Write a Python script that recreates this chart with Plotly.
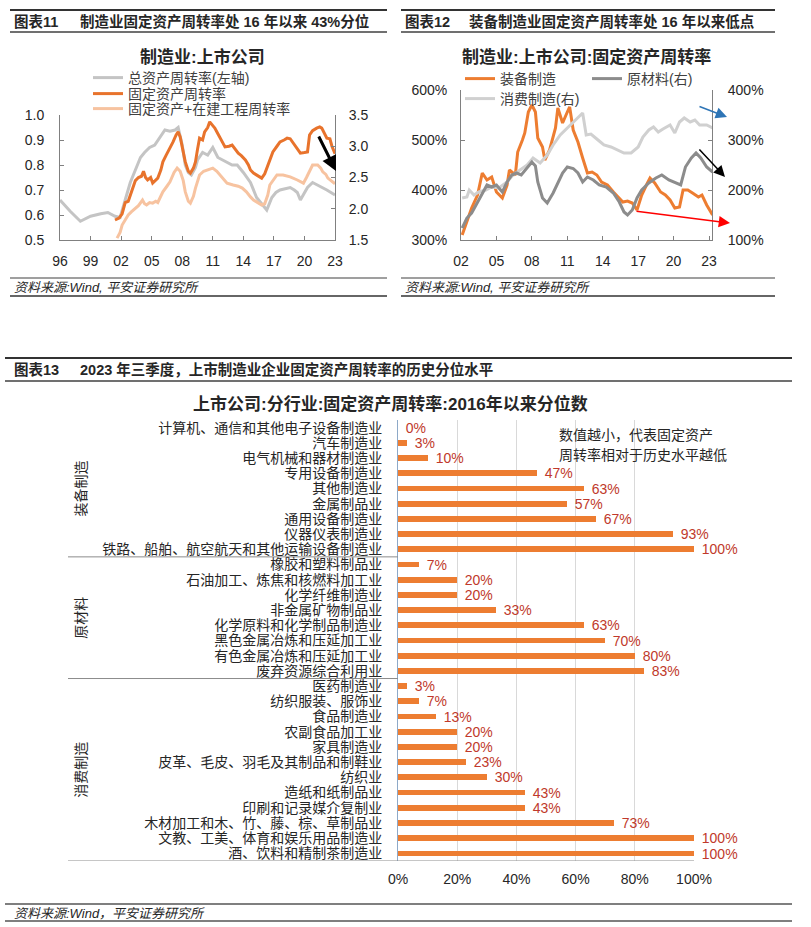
import plotly.graph_objects as go

W, H = 811, 927
def px(x): return x / W
def py(y): return 1 - y / H

FONT = "Liberation Sans, Arial, Noto Sans CJK SC, sans-serif"
TXT = "#262626"

# ---------------- Chart 11 data ----------------
c11_total_year = [1996.0, 1997.0, 1998.0, 1999.0, 2000.0, 2000.7, 2001.4, 2001.9, 2002.4, 2002.9,
                  2003.4, 2003.9, 2004.3, 2004.8, 2005.3, 2005.8, 2006.3, 2006.8, 2007.3, 2007.6,
                  2008.0, 2008.3, 2008.6, 2008.9, 2009.3, 2009.5, 2010.0, 2010.5, 2011.0, 2011.5,
                  2012.0, 2012.4, 2012.9, 2013.4, 2014.0, 2014.7, 2015.3, 2015.9, 2016.3, 2016.8,
                  2017.2, 2017.6, 2018.1, 2018.6, 2019.0, 2019.3, 2019.6, 2020.0, 2020.3, 2020.8,
                  2021.3, 2021.7, 2022.2, 2022.6, 2023.0]
c11_total = [0.66, 0.615, 0.575, 0.595, 0.605, 0.61, 0.595, 0.59, 0.66, 0.73,
             0.78, 0.83, 0.85, 0.87, 0.88, 0.91, 0.94, 0.935, 0.94, 0.95,
             0.88, 0.80, 0.77, 0.76, 0.79, 0.82, 0.85, 0.84, 0.87, 0.83,
             0.82, 0.81, 0.80, 0.80, 0.77, 0.73, 0.67, 0.64, 0.62, 0.67,
             0.69, 0.70, 0.705, 0.71, 0.70, 0.69, 0.66, 0.69, 0.71, 0.73,
             0.72, 0.71, 0.70, 0.69, 0.68]

c11_fixed_year = [2001.4, 2001.8, 2002.1, 2002.4, 2002.7, 2002.9, 2003.2, 2003.4, 2003.7, 2004.0,
                  2004.2, 2004.4, 2004.6, 2004.9, 2005.1, 2005.4, 2005.6, 2005.9, 2006.1, 2006.4,
                  2006.6, 2006.9, 2007.1, 2007.4, 2007.6, 2007.8, 2008.0, 2008.3, 2008.6, 2008.8,
                  2009.1, 2009.3, 2009.5, 2009.7, 2010.0, 2010.2, 2010.5, 2010.7, 2011.0, 2011.2,
                  2011.5, 2011.7, 2012.0, 2012.2, 2012.6, 2012.9, 2013.2, 2013.5, 2013.8, 2014.2,
                  2014.5, 2014.7, 2015.0, 2015.3, 2015.6, 2015.8, 2016.1, 2016.3, 2016.6, 2016.9,
                  2017.3, 2017.6, 2018.0, 2018.3, 2018.6, 2018.9, 2019.3, 2019.6, 2020.0, 2020.3,
                  2020.5, 2020.8, 2021.2, 2021.5, 2021.7, 2022.0, 2022.2, 2022.5, 2022.7, 2023.0]
c11_fixed = [1.82, 1.85, 1.92, 2.10, 2.12, 2.22, 2.38, 2.45, 2.50, 2.52,
             2.60, 2.50, 2.46, 2.50, 2.41, 2.46, 2.49, 2.62, 2.75, 2.85,
             2.91, 3.00, 3.07, 3.18, 3.23, 3.15, 3.00, 2.75, 2.60, 2.57,
             2.65, 2.75, 2.95, 3.13, 3.10, 3.23, 3.30, 3.39, 3.33, 3.29,
             3.20, 3.13, 3.05, 2.99, 3.00, 3.02, 2.96, 2.89, 2.85, 2.78,
             2.70, 2.62, 2.57, 2.54, 2.50, 2.49, 2.56, 2.65, 2.78, 2.91,
             3.00, 3.07, 3.10, 3.13, 3.12, 3.05, 2.95, 2.89, 2.90, 2.91,
             3.18, 3.25, 3.29, 3.31, 3.29, 3.20, 3.13, 3.12, 3.00, 2.88]

c11_fixcip_year = [2001.6, 2001.9, 2002.1, 2002.4, 2002.7, 2003.0, 2003.4, 2003.7, 2004.1, 2004.3,
                   2004.5, 2004.8, 2005.1, 2005.4, 2005.6, 2005.9, 2006.1, 2006.5, 2006.8, 2007.2,
                   2007.5, 2007.8, 2008.1, 2008.3, 2008.6, 2008.8, 2009.1, 2009.3, 2009.5, 2009.7,
                   2010.1, 2010.4, 2010.7, 2011.0, 2011.4, 2011.7, 2012.1, 2012.4, 2013.0, 2013.5,
                   2013.9, 2014.3, 2014.7, 2015.0, 2015.3, 2015.8, 2016.1, 2016.4, 2016.6, 2017.0,
                   2017.3, 2017.9, 2018.6, 2019.3, 2019.6, 2019.9, 2020.2, 2020.4, 2020.6, 2020.8,
                   2021.3, 2021.6, 2021.8, 2022.1, 2022.3, 2022.7, 2023.0]
c11_fixcip = [1.53, 1.62, 1.74, 1.82, 1.90, 1.95, 2.01, 2.05, 2.14, 2.08,
              2.06, 2.10, 2.09, 2.12, 2.10, 2.20, 2.27, 2.36, 2.43, 2.58,
              2.65, 2.60, 2.45, 2.27, 2.12, 2.09, 2.20, 2.33, 2.45, 2.54,
              2.60, 2.62, 2.64, 2.65, 2.60, 2.54, 2.47, 2.41, 2.38, 2.36,
              2.33, 2.27, 2.19, 2.14, 2.11, 2.06, 2.08, 2.22, 2.38, 2.48,
              2.54, 2.54, 2.51, 2.46, 2.43, 2.41, 2.50, 2.57, 2.65, 2.70,
              2.70, 2.65, 2.59, 2.55, 2.49, 2.44, 2.40]

c11_xticks = [1996, 1999, 2002, 2005, 2008, 2011, 2014, 2017, 2020, 2023]
c11_xlabels = ["96", "99", "02", "05", "08", "11", "14", "17", "20", "23"]

# ---------------- Chart 12 data ----------------
c12_equip_year = [2002.1, 2002.5, 2002.9, 2003.4, 2003.8, 2004.2, 2004.6, 2005.0, 2005.5, 2005.9,
                  2006.1, 2006.6, 2006.8, 2007.2, 2007.4, 2007.7, 2008.0, 2008.3, 2008.5, 2008.9,
                  2009.1, 2009.5, 2010.0, 2010.2, 2010.6, 2011.0, 2011.2, 2011.5, 2011.9, 2012.3,
                  2012.7, 2013.1, 2013.5, 2013.9, 2014.4, 2014.9, 2015.3, 2015.7, 2016.1, 2016.5,
                  2016.9, 2017.3, 2017.7, 2018.0, 2018.4, 2018.9, 2019.3, 2019.7, 2020.1, 2020.5,
                  2020.8, 2021.2, 2021.6, 2022.1, 2022.4, 2022.8, 2023.3]
c12_equip = [310, 336, 364, 390, 434, 420, 426, 396, 384, 410,
             440, 430, 476, 500, 514, 556, 570, 556, 504, 486,
             460, 480, 524, 564, 534, 556, 566, 520, 496, 464,
             434, 436, 430, 416, 410, 396, 386, 376, 378, 374,
             360, 390, 410, 424, 414, 396, 390, 380, 364, 366,
             400, 400, 394, 386, 390, 370, 350]

c12_raw_year = [2002.1, 2002.5, 2002.9, 2003.4, 2003.8, 2004.2, 2004.6, 2005.0, 2005.5, 2005.9,
                2006.3, 2006.7, 2007.1, 2007.6, 2008.0, 2008.3, 2008.5, 2008.9, 2009.3, 2009.8,
                2010.2, 2010.6, 2011.0, 2011.5, 2011.9, 2012.3, 2012.7, 2013.2, 2013.7, 2014.3,
                2014.9, 2015.4, 2015.8, 2016.1, 2016.5, 2016.9, 2017.3, 2017.9, 2018.5, 2019.0,
                2019.6, 2020.2, 2020.6, 2021.0, 2021.5, 2021.9, 2022.3, 2022.8, 2023.3]
c12_raw = [124, 144, 154, 176, 194, 210, 206, 210, 196, 216,
           230, 234, 230, 244, 256, 248, 216, 184, 174, 194,
           213, 234, 246, 243, 234, 216, 226, 220, 210, 206,
           194, 176, 156, 150, 160, 184, 200, 214, 224, 230,
           220, 214, 210, 246, 264, 274, 264, 246, 236]

c12_cons_year = [2002.1, 2002.5, 2002.7, 2003.1, 2003.5, 2004.1, 2004.6, 2005.2, 2005.9, 2006.4,
                 2007.0, 2007.6, 2008.1, 2008.7, 2009.3, 2009.8, 2010.4, 2011.0, 2011.5, 2011.9,
                 2012.3, 2012.6, 2013.0, 2013.6, 2014.1, 2014.7, 2015.3, 2015.8, 2016.4, 2017.0,
                 2017.4, 2017.9, 2018.3, 2018.7, 2019.1, 2019.7, 2020.1, 2020.5, 2020.9, 2021.4,
                 2021.8, 2022.2, 2022.8, 2023.3]
c12_cons = [184, 186, 200, 190, 196, 200, 206, 204, 216, 230,
            240, 250, 264, 254, 270, 290, 310, 324, 336, 346,
            354, 310, 312, 300, 290, 286, 280, 274, 274, 286,
            306, 320, 326, 316, 322, 330, 314, 336, 344, 336,
            340, 330, 330, 324]

c12_xticks = [2002, 2005, 2008, 2011, 2014, 2017, 2020, 2023]
c12_xlabels = ["02", "05", "08", "11", "14", "17", "20", "23"]

# ---------------- Chart 13 data ----------------
c13_industries = [
    "计算机、通信和其他电子设备制造业", "汽车制造业", "电气机械和器材制造业", "专用设备制造业",
    "其他制造业", "金属制品业", "通用设备制造业", "仪器仪表制造业",
    "铁路、船舶、航空航天和其他运输设备制造业",
    "橡胶和塑料制品业", "石油加工、炼焦和核燃料加工业", "化学纤维制造业", "非金属矿物制品业",
    "化学原料和化学制品制造业", "黑色金属冶炼和压延加工业", "有色金属冶炼和压延加工业", "废弃资源综合利用业",
    "医药制造业", "纺织服装、服饰业", "食品制造业", "农副食品加工业", "家具制造业",
    "皮革、毛皮、羽毛及其制品和制鞋业", "纺织业", "造纸和纸制品业", "印刷和记录媒介复制业",
    "木材加工和木、竹、藤、棕、草制品业", "文教、工美、体育和娱乐用品制造业", "酒、饮料和精制茶制造业",
]
c13_values = [0, 3, 10, 47, 63, 57, 67, 93, 100,
              7, 20, 20, 33, 63, 70, 80, 83,
              3, 7, 13, 20, 20, 23, 30, 43, 43, 73, 100, 100]
c13_groups = ["装备制造", "原材料", "消费制造"]
c13_group_sizes = [9, 8, 12]

ORANGE = "#ED7D31"
fig = go.Figure()

# Chart 11 traces
fig.add_trace(go.Scatter(x=c11_total_year, y=c11_total, mode="lines", name="总资产周转率(左轴)",
                         line=dict(color="#C4C4C4", width=3), xaxis="x", yaxis="y", legend="legend"))
fig.add_trace(go.Scatter(x=c11_fixcip_year, y=c11_fixcip, mode="lines", name="固定资产+在建工程周转率",
                         line=dict(color="#F7C3A0", width=3), xaxis="x", yaxis="y2", legend="legend3"))
fig.add_trace(go.Scatter(x=c11_fixed_year, y=c11_fixed, mode="lines", name="固定资产周转率",
                         line=dict(color="#E8732C", width=3), xaxis="x", yaxis="y2", legend="legend2"))

# Chart 12 traces
fig.add_trace(go.Scatter(x=c12_equip_year, y=c12_equip, mode="lines", name="装备制造",
                         line=dict(color=ORANGE, width=3), xaxis="x2", yaxis="y3", legend="legend4"))
fig.add_trace(go.Scatter(x=c12_cons_year, y=c12_cons, mode="lines", name="消费制造(右)",
                         line=dict(color="#D0D0D0", width=3), xaxis="x2", yaxis="y4", legend="legend6"))
fig.add_trace(go.Scatter(x=c12_raw_year, y=c12_raw, mode="lines", name="原材料(右)",
                         line=dict(color="#8C8C8C", width=3), xaxis="x2", yaxis="y4", legend="legend5"))

# Chart 13 bars
fig.add_trace(go.Bar(x=c13_values, y=c13_industries, orientation="h", marker=dict(color=ORANGE, line=dict(width=0)),
                     width=0.38, text=[f"\u00a0\u00a0{v}%" for v in c13_values], textposition="outside",
                     constraintext="none", cliponaxis=False,
                     textfont=dict(color="#C0392B", size=14, family=FONT),
                     xaxis="x3", yaxis="y5", showlegend=False))

AX = "#808080"
tickfont = dict(size=14, color=TXT, family=FONT)

layout = dict(
    width=W, height=H, margin=dict(l=0, r=0, t=0, b=0, autoexpand=False),
    paper_bgcolor="white", plot_bgcolor="rgba(0,0,0,0)",
    font=dict(family=FONT, color=TXT, size=14),
    bargap=0,
    xaxis=dict(domain=[px(60), px(335)], anchor="y", range=[1996, 2023], tickvals=c11_xticks, ticktext=c11_xlabels,
               ticks="inside", ticklen=4, tickcolor=AX, showline=True, linecolor=AX, linewidth=1, automargin=False,
               showgrid=False, zeroline=False, tickfont=tickfont, ticklabelstandoff=8),
    yaxis=dict(domain=[py(240), py(115)], anchor="x", range=[0.5, 1.0], dtick=0.1, tickformat=".1f",
               ticks="inside", ticklen=4, tickcolor=AX, showline=True, linecolor=AX, linewidth=1, automargin=False,
               showgrid=False, zeroline=False, tickfont=tickfont, ticklabelstandoff=12),
    yaxis2=dict(anchor="x", overlaying="y", side="right", range=[1.5, 3.5], dtick=0.5, tickformat=".1f",
                ticks="inside", ticklen=4, tickcolor=AX, showline=True, linecolor=AX, linewidth=1, automargin=False,
                showgrid=False, zeroline=False, tickfont=tickfont, ticklabelstandoff=10),
    xaxis2=dict(domain=[px(461), px(712)], anchor="y3", range=[2002, 2023.25], tickvals=c12_xticks, ticktext=c12_xlabels,
                ticks="inside", ticklen=4, tickcolor=AX, showline=True, linecolor=AX, linewidth=1, automargin=False,
                showgrid=False, zeroline=False, tickfont=tickfont, ticklabelstandoff=8),
    yaxis3=dict(domain=[py(240), py(90)], anchor="x2", range=[300, 600], dtick=100, ticksuffix="%",
                ticks="inside", ticklen=4, tickcolor=AX, showline=True, linecolor=AX, linewidth=1, automargin=False,
                showgrid=False, zeroline=False, tickfont=tickfont, ticklabelstandoff=10),
    yaxis4=dict(anchor="x2", overlaying="y3", side="right", range=[100, 400], dtick=100, ticksuffix="%",
                ticks="inside", ticklen=4, tickcolor=AX, showline=True, linecolor=AX, linewidth=1, automargin=False,
                showgrid=False, zeroline=False, tickfont=tickfont, ticklabelstandoff=12),
    xaxis3=dict(domain=[px(398), px(694)], anchor="y5", range=[0, 100], dtick=20, ticksuffix="%",
                showgrid=True, gridcolor="#D9D9D9", gridwidth=1, zeroline=False, showline=False, automargin=False,
                ticks="", tickfont=tickfont, ticklabelstandoff=8),
    yaxis5=dict(domain=[py(861), py(420)], anchor="x3", type="category", categoryorder="array",
                categoryarray=c13_industries, tickmode="array", tickvals=c13_industries, ticktext=c13_industries,
                range=[28.5, -0.5], showline=True, linecolor="#8EA9C8", automargin=False,
                linewidth=1, ticks="", showgrid=False, tickfont=dict(size=14, color=TXT, family=FONT),
                ticklabelstandoff=12),
)

# legends
def leg(x, y):
    return dict(x=px(x), y=py(y), xanchor="left", yanchor="middle", bgcolor="rgba(0,0,0,0)",
                font=dict(size=14, color="#404040", family=FONT), borderwidth=0, orientation="v",
                itemwidth=30)
layout["legend"] = leg(88, 78)
layout["legend2"] = leg(88, 94)
layout["legend3"] = leg(88, 109)
layout["legend4"] = leg(460, 79)
layout["legend5"] = leg(587, 79)
layout["legend6"] = leg(460, 99)

fig.update_layout(**layout)

shapes = []
def hline(x0, x1, y, w=1.5, c="#404040"):
    shapes.append(dict(type="line", xref="paper", yref="paper", x0=px(x0), x1=px(x1), y0=py(y), y1=py(y),
                       line=dict(color=c, width=w)))
# header / footer rules
hline(10, 387, 10, 2, "#333333"); hline(10, 387, 32, 1.5)
hline(401, 775, 10, 2, "#333333"); hline(401, 775, 32, 1.5)
hline(10, 387, 278, 1.2); hline(10, 387, 296, 2, "#666666")
hline(401, 775, 278, 1.2); hline(401, 775, 296, 2, "#666666")
hline(5, 792, 358, 2, "#333333"); hline(5, 792, 381, 1.5)
hline(5, 792, 904, 1.5, "#555555"); hline(5, 792, 921, 1.5, "#555555")

# chart 13 group separators
start = 0
for n in c13_group_sizes[:-1]:
    start += n
    shapes.append(dict(type="line", xref="paper", yref="y5", x0=px(68), x1=px(398), y0=start - 0.5, y1=start - 0.5,
                       line=dict(color="#8C8C8C", width=1)))
shapes.append(dict(type="line", xref="paper", yref="y5", x0=px(68), x1=px(694), y0=28.5, y1=28.5,
                   line=dict(color="#8C8C8C", width=1)))
fig.update_layout(shapes=shapes)

ann = []
def text(x, y, s, size=14, bold=False, italic=False, anchor="left", color=TXT):
    t = f"<b>{s}</b>" if bold else s
    t = f"<i>{t}</i>" if italic else t
    ann.append(dict(x=px(x), y=py(y), xref="paper", yref="paper", text=t, showarrow=False,
                    xanchor=anchor, yanchor="middle", font=dict(size=size, color=color, family=FONT)))

text(12, 22, "图表11", 14.5, bold=True)
text(78, 22, "制造业固定资产周转率处 16 年以来 43%分位", 14.5, bold=True)
text(403, 22, "图表12", 14.5, bold=True)
text(467, 22, "装备制造业固定资产周转率处 16 年以来低点", 14.5, bold=True)
text(12, 369, "图表13", 14.5, bold=True)
text(78, 369, "2023 年三季度，上市制造业企业固定资产周转率的历史分位水平", 14.5, bold=True)
text(12, 287, "资料来源:Wind, 平安证券研究所", 13, italic=True)
text(403, 287, "资料来源:Wind, 平安证券研究所", 13, italic=True)
text(12, 913, "资料来源:Wind，平安证券研究所", 13, italic=True)
text(202, 57, "制造业:上市公司", 17, bold=True, anchor="center")
text(586, 57, "制造业:上市公司:固定资产周转率", 17, bold=True, anchor="center")
text(390, 404, "上市公司:分行业:固定资产周转率:2016年以来分位数", 17, bold=True, anchor="center")
text(557, 435, "数值越小，代表固定资产", 14)
text(557, 455, "周转率相对于历史水平越低", 14)

# group labels (vertical)
start = 0
for g, n in zip(c13_groups, c13_group_sizes):
    ann.append(dict(x=px(81), y=start + (n - 1) / 2, xref="paper", yref="y5", text=g, showarrow=False,
                    textangle=-90, xanchor="center", yanchor="middle", font=dict(size=14, color=TXT, family=FONT)))
    start += n

# arrows
def arrow(hx, hy, tx, ty, color, width, size):
    ann.append(dict(x=px(hx), y=py(hy), xref="paper", yref="paper", ax=tx - hx, ay=ty - hy,
                    axref="pixel", ayref="pixel", showarrow=True, arrowhead=2, arrowsize=size,
                    arrowwidth=width, arrowcolor=color, text=""))
arrow(336, 171, 318, 135, "black", 3, 1)
arrow(727, 117, 698, 106, "#2E75B6", 1.5, 1.5)
arrow(725, 177, 698, 148, "black", 1.5, 1.5)
arrow(730, 223, 635, 211, "#FF0000", 1.5, 1.5)

fig.update_layout(annotations=ann)

fig.write_html("out.html", config={"displayModeBar": False},
               post_script="document.body.style.margin='0';")
